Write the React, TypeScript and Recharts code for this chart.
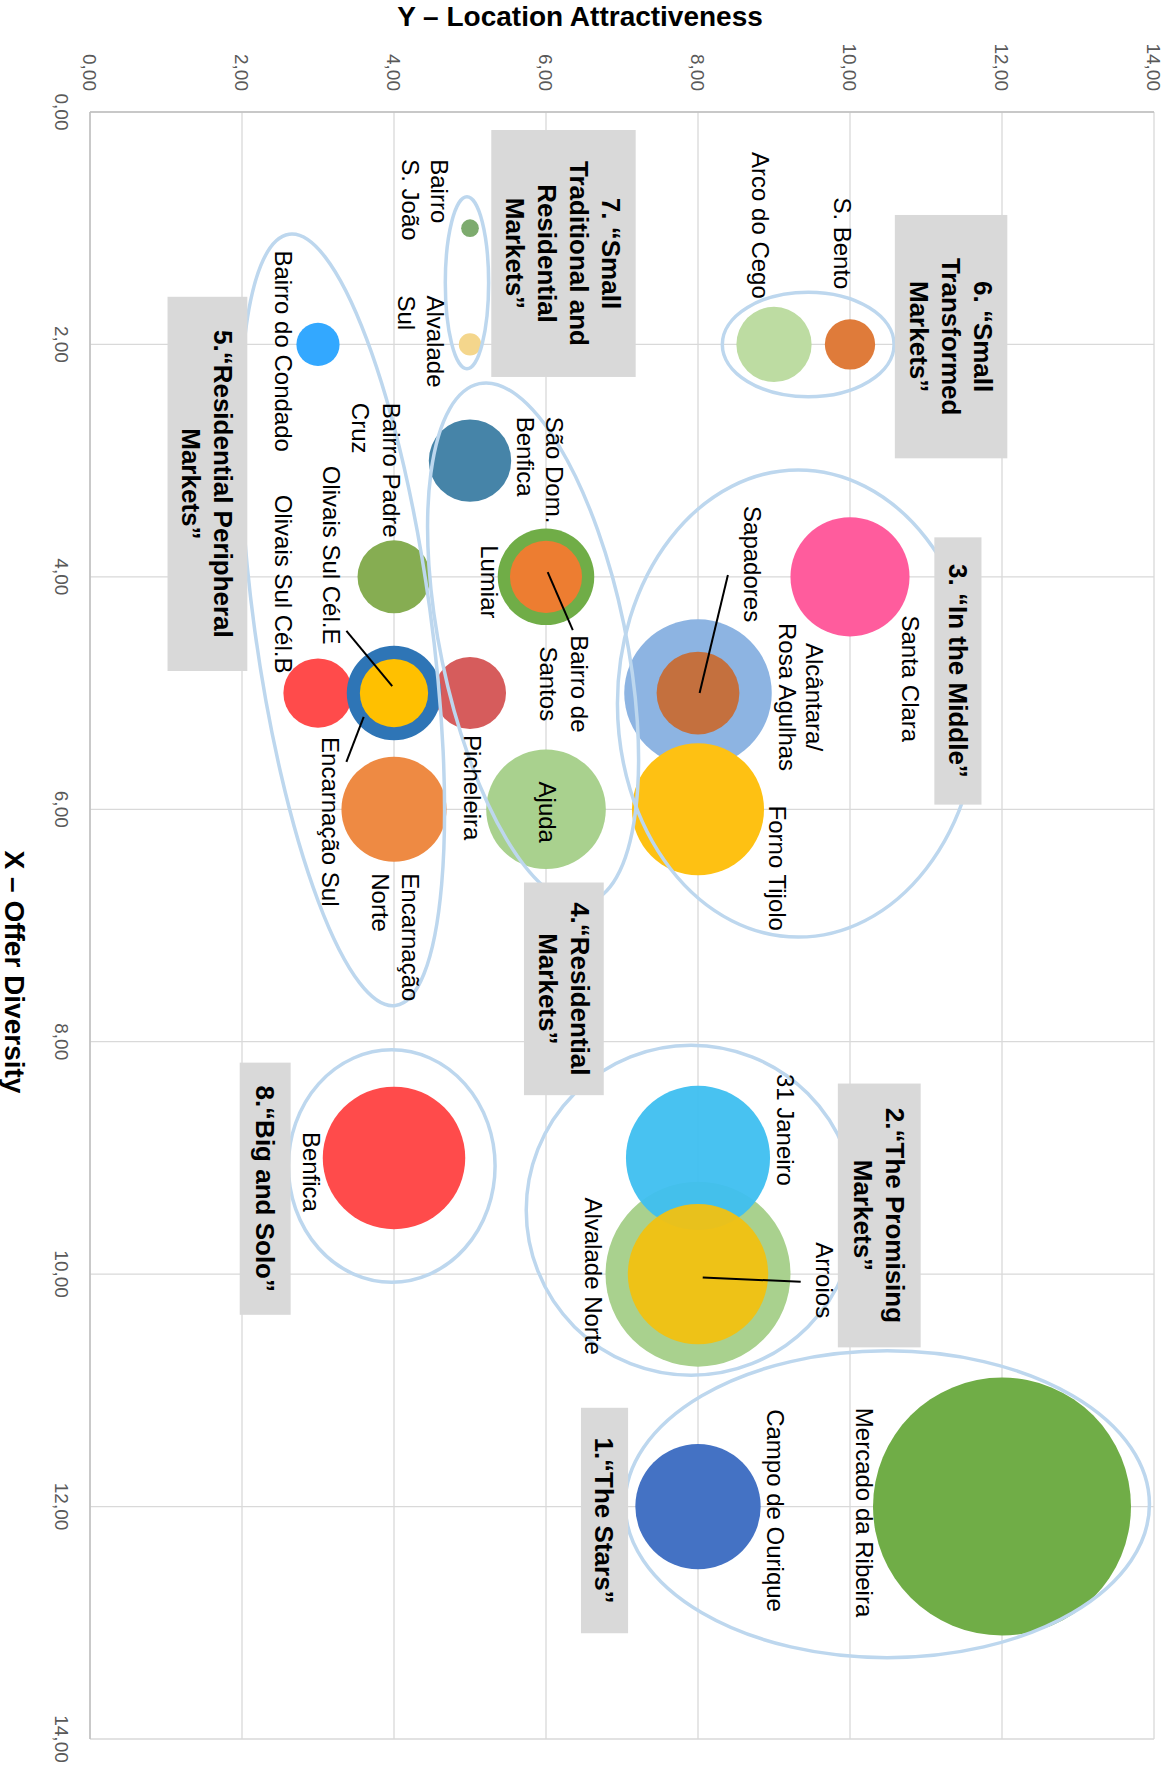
import React from 'react'
import {
  ScatterChart,
  Scatter,
  XAxis,
  YAxis,
  ZAxis,
  CartesianGrid,
  ReferenceArea,
  Label,
} from 'recharts'

// The chart is drawn landscape (X = offer diversity, Y = location attractiveness)
// and the whole thing is turned 90deg clockwise, like the source figure.

const TICKS = [0, 2, 4, 6, 8, 10, 12, 14]

// drawing order matters: outer rings before the bubbles sitting on them
const MARKETS = [
  'Mercado da Ribeira',
  'Campo de Ourique',
  'Alvalade Norte',
  '31 Janeiro',
  'Arroios',
  'Benfica',
  'Santa Clara',
  'Alcântara/Rosa Agulhas',
  'Sapadores',
  'Forno Tijolo',
  'S. Bento',
  'Arco do Cego',
  'São Dom. Benfica',
  'Lumiar',
  'Bairro de Santos',
  'Ajuda',
  'Picheleira',
  'Bairro Padre Cruz',
  'Olivais Sul Cél.B',
  'Encarnação Sul',
  'Olivais Sul Cél.E',
  'Encarnação Norte',
  'Bairro do Condado',
  'Bairro S. João',
  'Alvalade Sul',
]
const OFFER_DIVERSITY = [12, 12, 10, 9, 10, 9, 4, 5, 5, 6, 2, 2, 3, 4, 4, 6, 5, 4, 5, 5, 5, 6, 2, 1, 2]
const LOCATION_ATTRACT = [12, 8, 8, 8, 8, 4, 10, 8, 8, 8, 10, 9, 5, 6, 6, 6, 5, 4, 3, 4, 4, 4, 3, 5, 5]
const MARKET_SIZE = [
  100, 23.6, 51.4, 31.2, 29.6, 30.5, 21.3, 32.7, 10.3, 26.2, 3.8, 8.5, 10.2, 14.0, 7.8, 21.5, 7.8,
  8.0, 7.2, 13.4, 7.0, 16.6, 2.8, 0.47, 0.75,
]

const data = MARKETS.map((name, i) => ({
  name,
  x: OFFER_DIVERSITY[i],
  y: LOCATION_ATTRACT[i],
  z: MARKET_SIZE[i],
}))

// group outlines and their grey captions, in chart units
const GROUP_RINGS = [
  { x1: 10.66, x2: 13.3, y1: 7.04, y2: 13.94, angle: 0 },
  { x1: 8.03, x2: 10.87, y1: 5.74, y2: 10.08, angle: 0 },
  { x1: 3.08, x2: 7.1, y1: 6.94, y2: 11.7, angle: 0 },
  { x1: 2.29, x2: 6.85, y1: 4.61, y2: 7.05, angle: -11.7 },
  { x1: 1.02, x2: 7.72, y1: 2.16, y2: 4.48, angle: -7.85 },
  { x1: 1.55, x2: 2.45, y1: 8.32, y2: 10.58, angle: 0 },
  { x1: 0.73, x2: 2.21, y1: 4.675, y2: 5.245, angle: 0 },
  { x1: 8.07, x2: 10.07, y1: 2.61, y2: 5.33, angle: 0 },
]

const GROUP_BOXES = [
  { x1: 11.15, x2: 13.09, y1: 6.46, y2: 7.08, lines: ['1.“The Stars”'] },
  { x1: 8.36, x2: 10.63, y1: 9.84, y2: 10.93, lines: ['2.“The Promising', 'Markets”'] },
  { x1: 3.66, x2: 5.96, y1: 11.11, y2: 11.73, lines: ['3. “In the Middle”'] },
  { x1: 6.63, x2: 8.46, y1: 5.71, y2: 6.76, lines: ['4.“Residential', 'Markets”'] },
  { x1: 1.59, x2: 4.81, y1: 1.02, y2: 2.07, lines: ['5.“Residential Peripheral', 'Markets”'] },
  { x1: 0.886, x2: 2.98, y1: 10.59, y2: 12.07, lines: ['6. “Small', 'Transformed', 'Markets”'] },
  {
    x1: 0.155,
    x2: 2.28,
    y1: 5.28,
    y2: 7.18,
    lines: ['7. “Small', 'Traditional and', 'Residential', 'Markets”'],
  },
  { x1: 8.18, x2: 10.35, y1: 1.97, y2: 2.64, lines: ['8.“Big and Solo”'] },
]

const FONT = '"Liberation Sans", Arial, Helvetica, sans-serif'

const BUBBLE_COLORS: Record<string, { fill: string; opacity?: number }> = {
  'Mercado da Ribeira': { fill: '#70ad47' },
  'Campo de Ourique': { fill: '#4472c4' },
  'Alvalade Norte': { fill: '#a9d18e' },
  '31 Janeiro': { fill: '#3ebff0', opacity: 0.95 },
  Arroios: { fill: '#f2c010', opacity: 0.94 },
  Benfica: { fill: '#ff4b4b' },
  'Santa Clara': { fill: '#ff5c9d' },
  'Alcântara/Rosa Agulhas': { fill: '#8db4e2' },
  Sapadores: { fill: '#c4703e' },
  'Forno Tijolo': { fill: '#fec113' },
  'S. Bento': { fill: '#df7b3a' },
  'Arco do Cego': { fill: '#bddca2' },
  'São Dom. Benfica': { fill: '#4684a8' },
  Lumiar: { fill: '#70ad47' },
  'Bairro de Santos': { fill: '#ed7d31' },
  Ajuda: { fill: '#a9d18e' },
  Picheleira: { fill: '#d65c5c' },
  'Bairro Padre Cruz': { fill: '#86ad52' },
  'Olivais Sul Cél.B': { fill: '#ff4b4b' },
  'Encarnação Sul': { fill: '#2e75b6' },
  'Olivais Sul Cél.E': { fill: '#ffc000' },
  'Encarnação Norte': { fill: '#ee8a43' },
  'Bairro do Condado': { fill: '#33a8ff' },
  'Bairro S. João': { fill: '#7dab6e' },
  'Alvalade Sul': { fill: '#f4d68c' },
}

// label placement relative to the bubble centre (px, landscape frame)
type LabelCfg = {
  lines: string[]
  anchor: 'start' | 'middle'
  du: number
  dv: number[]
  leader?: [number, number, number, number]
}

const LABELS: Record<string, LabelCfg> = {
  'Mercado da Ribeira': { lines: ['Mercado da Ribeira'], anchor: 'middle', du: 6, dv: [138] },
  'Campo de Ourique': { lines: ['Campo de Ourique'], anchor: 'middle', du: 4, dv: [-77] },
  '31 Janeiro': { lines: ['31 Janeiro'], anchor: 'middle', du: -28, dv: [-87] },
  Arroios: {
    lines: ['Arroios'],
    anchor: 'middle',
    du: 6,
    dv: [-126],
    leader: [3.3, -4.7, 7.7, -102.7],
  },
  'Alvalade Norte': { lines: ['Alvalade Norte'], anchor: 'middle', du: 2, dv: [105] },
  Benfica: { lines: ['Benfica'], anchor: 'middle', du: 14, dv: [83] },
  'Santa Clara': { lines: ['Santa Clara'], anchor: 'middle', du: 102, dv: [-60] },
  'Alcântara/Rosa Agulhas': {
    lines: ['Alcântara/', 'Rosa Agulhas'],
    anchor: 'middle',
    du: 4,
    dv: [-116, -89],
  },
  Sapadores: {
    lines: ['Sapadores'],
    anchor: 'start',
    du: -187,
    dv: [-54],
    leader: [0, -1.6, -118, -29.9],
  },
  'Forno Tijolo': { lines: ['Forno Tijolo'], anchor: 'middle', du: 59, dv: [-79] },
  'S. Bento': { lines: ['S. Bento'], anchor: 'middle', du: -101, dv: [8] },
  'Arco do Cego': { lines: ['Arco do Cego'], anchor: 'middle', du: -119, dv: [14] },
  'São Dom. Benfica': { lines: ['São Dom.', 'Benfica'], anchor: 'start', du: -44, dv: [-84, -55] },
  Lumiar: { lines: ['Lumiar'], anchor: 'middle', du: 5, dv: [57] },
  'Bairro de Santos': {
    lines: ['Bairro de', 'Santos'],
    anchor: 'middle',
    du: 107,
    dv: [-33, -2],
    leader: [-4.8, -1.7, 53.3, -26.8],
  },
  Ajuda: { lines: ['Ajuda'], anchor: 'middle', du: 3, dv: [-1] },
  Picheleira: { lines: ['Picheleira'], anchor: 'start', du: 42, dv: [-2] },
  'Bairro Padre Cruz': { lines: ['Bairro Padre', 'Cruz'], anchor: 'start', du: -174, dv: [3, 34] },
  'Olivais Sul Cél.B': { lines: ['Olivais Sul Cél.B'], anchor: 'middle', du: -109, dv: [35] },
  'Encarnação Sul': {
    lines: ['Encarnação Sul'],
    anchor: 'start',
    du: 44,
    dv: [64],
    leader: [23.8, 30.3, 68.8, 47.6],
  },
  'Olivais Sul Cél.E': {
    lines: ['Olivais Sul Cél.E'],
    anchor: 'middle',
    du: -138,
    dv: [63],
    leader: [-62.1, 47.6, -6.9, 1.8],
  },
  'Encarnação Norte': { lines: ['Encarnação', 'Norte'], anchor: 'start', du: 64, dv: [-16, 14] },
  'Bairro do Condado': { lines: ['Bairro do Condado'], anchor: 'start', du: -94, dv: [35] },
  'Bairro S. João': { lines: ['Bairro', 'S. João'], anchor: 'start', du: -69, dv: [31, 60] },
  'Alvalade Sul': { lines: ['Alvalade', 'Sul'], anchor: 'start', du: -49, dv: [35, 64] },
}

const fmt = (v: number) => v.toFixed(2).replace('.', ',')

function Bubble(props: any) {
  const { cx, cy, payload } = props
  const r = props.width ? props.width / 2 : Math.sqrt((props.size || 0) / Math.PI)
  const c = BUBBLE_COLORS[payload.name] || { fill: '#999' }
  return <circle cx={cx} cy={cy} r={r} fill={c.fill} fillOpacity={c.opacity ?? 1} />
}

function MarketLabel(props: any) {
  const { cx, cy, payload } = props
  const cfg = LABELS[payload.name]
  if (!cfg) return <g />
  return (
    <g>
      {cfg.leader && (
        <line
          x1={cx + cfg.leader[0]}
          y1={cy + cfg.leader[1]}
          x2={cx + cfg.leader[2]}
          y2={cy + cfg.leader[3]}
          stroke="#000"
          strokeWidth={2}
        />
      )}
      {cfg.lines.map((t, i) => (
        <text
          key={i}
          x={cx + cfg.du}
          y={cy + cfg.dv[i]}
          dy="0.35em"
          textAnchor={cfg.anchor}
          fontSize={24}
          fill="#000"
        >
          {t}
        </text>
      ))}
    </g>
  )
}

function Ring(props: any) {
  const { x, y, width, height, angle } = props
  const cx = x + width / 2
  const cy = y + height / 2
  return (
    <ellipse
      cx={cx}
      cy={cy}
      rx={Math.abs(width) / 2}
      ry={Math.abs(height) / 2}
      fill="none"
      stroke="#bdd7ee"
      strokeWidth={3.5}
      transform={`rotate(${angle} ${cx} ${cy})`}
    />
  )
}

function Caption(props: any) {
  const { x, y, width, height, lines } = props
  const cx = x + width / 2
  const cy = y + height / 2
  return (
    <g>
      <rect x={x} y={y} width={width} height={height} fill="#d9d9d9" />
      {lines.map((t: string, i: number) => (
        <text
          key={i}
          x={cx}
          y={cy + (i - (lines.length - 1) / 2) * 32}
          dy="0.35em"
          textAnchor="middle"
          fontSize={26}
          fontWeight="bold"
          fill="#000"
        >
          {t}
        </text>
      ))}
    </g>
  )
}

export default function App() {
  return (
    <div
      style={{
        position: 'absolute',
        left: 0,
        top: 0,
        width: 1166,
        height: 1768,
        overflow: 'hidden',
        background: '#fff',
      }}
    >
      <div
        style={{
          position: 'absolute',
          left: 0,
          top: 0,
          width: 1768,
          height: 1166,
          transformOrigin: '0 0',
          transform: 'translateX(1166px) rotate(90deg)',
        }}
      >
        <ScatterChart
          width={1768}
          height={1166}
          margin={{ top: 12, right: 29, bottom: 30, left: 52 }}
          style={{ fontFamily: FONT }}
        >
          <CartesianGrid stroke="#d9d9d9" strokeWidth={1.3} />
          <XAxis
            type="number"
            dataKey="x"
            domain={[0, 14]}
            ticks={TICKS}
            tickFormatter={fmt}
            height={60}
            tickSize={0}
            tickMargin={22}
            tickLine={false}
            axisLine={{ stroke: '#bfbfbf', strokeWidth: 1.5 }}
            tick={{ fontSize: 19, fill: '#595959', fontFamily: FONT }}
          >
            <Label
              content={() => (
                <text
                  x={972}
                  y={1151}
                  dy="0.35em"
                  textAnchor="middle"
                  fontSize={28}
                  fontWeight="bold"
                  fill="#000"
                  fontFamily={FONT}
                >
                  X – Offer Diversity
                </text>
              )}
            />
          </XAxis>
          <YAxis
            type="number"
            dataKey="y"
            domain={[0, 14]}
            ticks={TICKS}
            tickFormatter={fmt}
            width={60}
            tickSize={0}
            tickMargin={21}
            tickLine={false}
            axisLine={{ stroke: '#bfbfbf', strokeWidth: 1.5 }}
            tick={{ fontSize: 19, fill: '#595959', fontFamily: FONT }}
          >
            <Label
              content={() => (
                <text
                  x={16}
                  y={586}
                  dy="0.35em"
                  textAnchor="middle"
                  fontSize={28}
                  fontWeight="bold"
                  fill="#000"
                  fontFamily={FONT}
                  transform="rotate(-90 16 586)"
                >
                  Y – Location Attractiveness
                </text>
              )}
            />
          </YAxis>
          <ZAxis type="number" dataKey="z" domain={[0, 100]} range={[0, Math.PI * 129 * 129]} />
          <Scatter data={data} shape={Bubble} isAnimationActive={false} zIndex={600} />
          {GROUP_RINGS.map((g, i) => (
            <ReferenceArea
              key={`ring-${i}`}
              x1={g.x1}
              x2={g.x2}
              y1={g.y1}
              y2={g.y2}
              ifOverflow="visible"
              zIndex={700}
              shape={(p: any) => <Ring {...p} angle={g.angle} />}
            />
          ))}
          <Scatter data={data} shape={MarketLabel} isAnimationActive={false} zIndex={750} />
          {GROUP_BOXES.map((g, i) => (
            <ReferenceArea
              key={`box-${i}`}
              x1={g.x1}
              x2={g.x2}
              y1={g.y1}
              y2={g.y2}
              ifOverflow="visible"
              zIndex={800}
              shape={(p: any) => <Caption {...p} lines={g.lines} />}
            />
          ))}
        </ScatterChart>
      </div>
    </div>
  )
}
